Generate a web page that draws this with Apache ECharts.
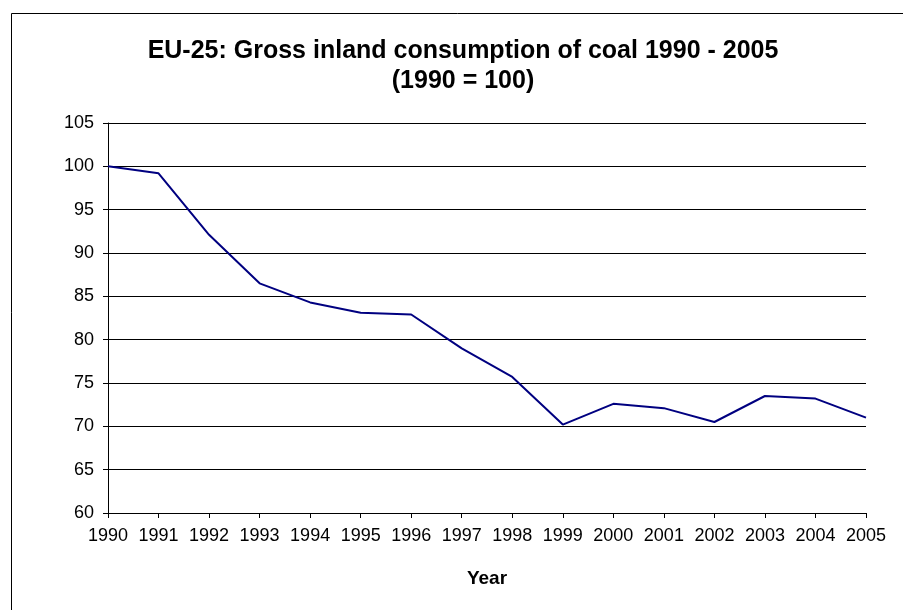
<!DOCTYPE html>
<html>
<head>
<meta charset="utf-8">
<script src="https://cdn.jsdelivr.net/npm/echarts@6/dist/echarts.min.js"></script>
<style>
html,body{margin:0;padding:0;background:#fff;}
#c{width:903px;height:610px;}
</style>
</head>
<body>
<div id="c"></div>
<script>
const years = ['1990','1991','1992','1993','1994','1995','1996','1997','1998','1999','2000','2001','2002','2003','2004','2005'];
const coalIndex = [100, 99.2, 92.1, 86.5, 84.3, 83.1, 82.9, 79.0, 75.7, 70.2, 72.6, 72.1, 70.5, 73.5, 73.2, 71.0];
const titleLines = ['EU-25: Gross inland consumption of coal 1990 - 2005', '(1990 = 100)'];
const xName = 'Year';

const chart = echarts.init(document.getElementById('c'), null, {renderer: 'canvas'});
const font = 'Liberation Sans, Arial, sans-serif';
chart.setOption({
  backgroundColor: '#fff',
  animation: false,
  graphic: [
    {type: 'rect', shape: {x: 11.5, y: 13.5, width: 1000, height: 1000}, style: {fill: 'none', stroke: '#000', lineWidth: 1}, silent: true},
    {type: 'text', x: 463, y: 36, style: {text: titleLines.join('\n'), textAlign: 'center', font: 'bold 25px ' + font, lineHeight: 30, fill: '#000'}}
  ],
  grid: {left: 108, right: 37, top: 123, bottom: 97, outerBoundsMode: 'none'},
  xAxis: {
    type: 'category',
    data: years,
    boundaryGap: false,
    name: xName,
    nameLocation: 'middle',
    nameGap: 56,
    nameTextStyle: {fontFamily: font, fontSize: 19, fontWeight: 'bold', color: '#000'},
    axisLine: {lineStyle: {color: '#000', width: 1}},
    axisTick: {show: true, length: 5, inside: false, lineStyle: {color: '#000'}},
    axisLabel: {fontFamily: font, fontSize: 18, color: '#000', margin: 14, interval: 0},
    splitLine: {show: false}
  },
  yAxis: {
    type: 'value',
    min: 60, max: 105, interval: 5,
    axisLine: {show: true, lineStyle: {color: '#000', width: 1}},
    axisTick: {show: true, length: 5, lineStyle: {color: '#000'}},
    axisLabel: {fontFamily: font, fontSize: 18, color: '#000', margin: 14},
    splitLine: {show: true, lineStyle: {color: '#000', width: 1}}
  },
  series: [{
    type: 'line',
    data: coalIndex,
    symbol: 'none',
    lineStyle: {color: '#000080', width: 2},
    itemStyle: {color: '#000080'}
  }]
});
</script>
</body>
</html>
